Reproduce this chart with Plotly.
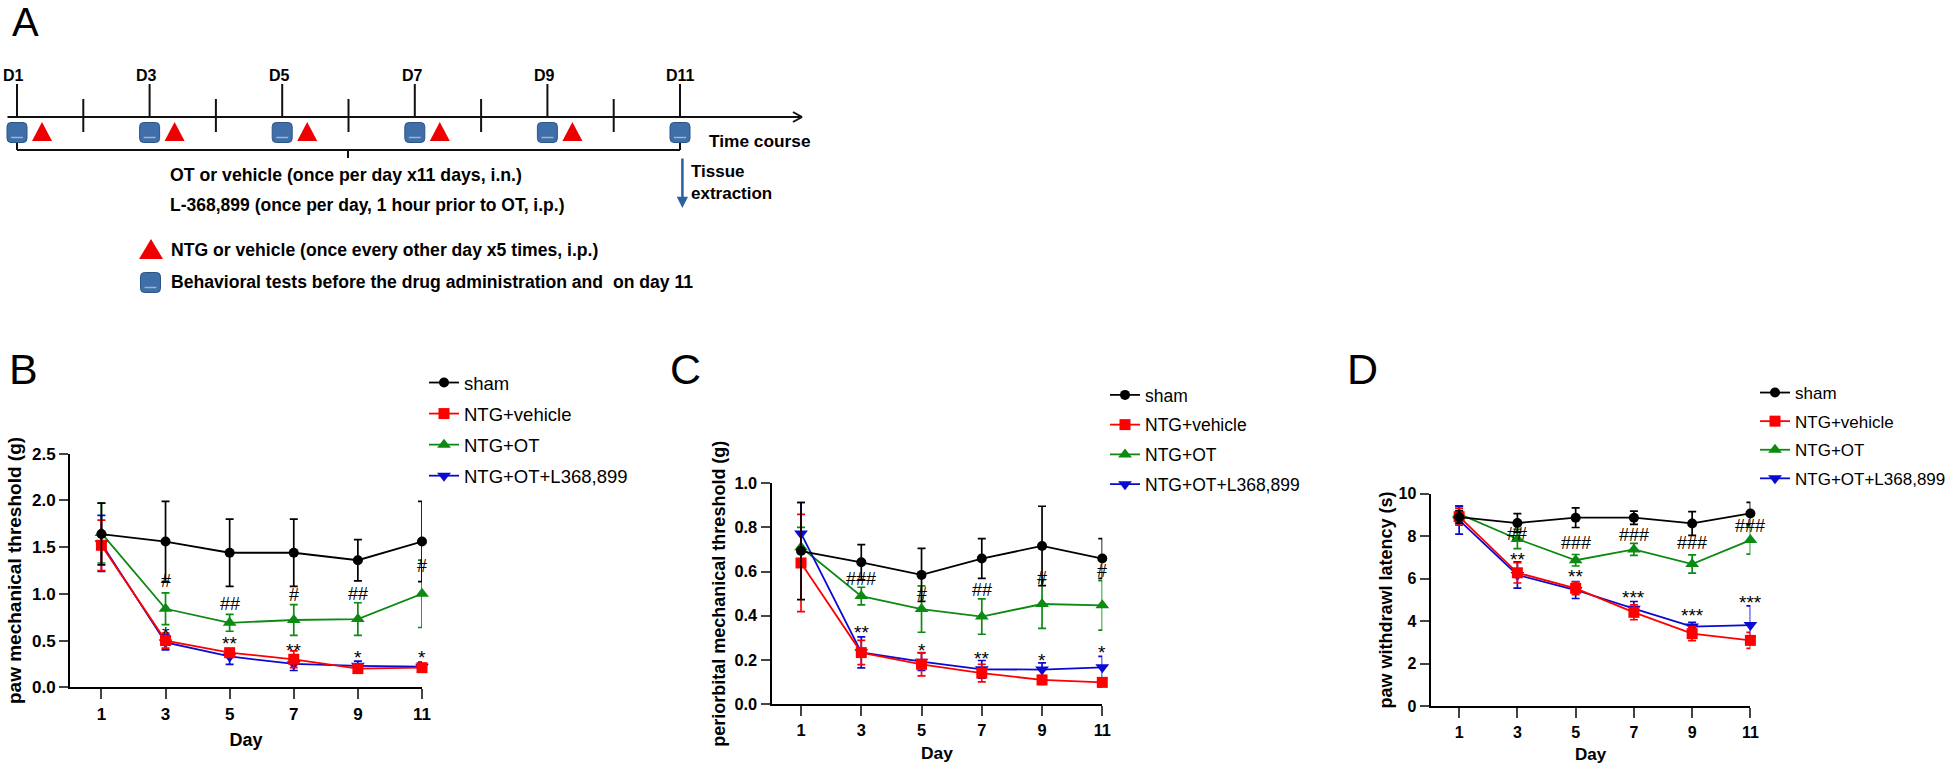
import plotly.graph_objects as go

W, H = 1946, 765

days = [1, 3, 5, 7, 9, 11]
series_names = ["sham", "NTG+vehicle", "NTG+OT", "NTG+OT+L368,899"]

# panel B
b_sham = [1.64, 1.56, 1.44, 1.44, 1.36, 1.56]
b_sham_err = [0.33, 0.43, 0.36, 0.36, 0.22, 0.43]
b_veh = [1.52, 0.50, 0.37, 0.30, 0.20, 0.21]
b_veh_err = [0.27, 0.08, 0.04, 0.09, 0.04, 0.04]
b_ot = [1.65, 0.84, 0.69, 0.72, 0.73, 1.00]
b_ot_err = [0.32, 0.17, 0.09, 0.165, 0.175, 0.36]
b_l368 = [1.54, 0.48, 0.33, 0.25, 0.23, 0.22]
b_l368_err = [0.30, 0.08, 0.085, 0.07, 0.05, 0.05]
b_hash = ["#", "##", "#", "##", "#"]
b_hash_y = [1.14, 0.89, 0.99, 1.00, 1.30]
b_star = ["*", "**", "**", "*", "*"]
b_star_y = [0.62, 0.51, 0.44, 0.36, 0.36]

# panel C
c_sham = [0.693, 0.642, 0.585, 0.659, 0.716, 0.659]
c_sham_err = [0.22, 0.08, 0.12, 0.09, 0.18, 0.09]
c_veh = [0.639, 0.233, 0.18, 0.14, 0.109, 0.098]
c_veh_err = [0.22, 0.055, 0.053, 0.04, 0.02, 0.02]
c_ot = [0.71, 0.489, 0.43, 0.396, 0.453, 0.447]
c_ot_err = [0.09, 0.04, 0.105, 0.08, 0.11, 0.112]
c_l368 = [0.773, 0.234, 0.192, 0.157, 0.156, 0.166]
c_l368_err = [0.14, 0.07, 0.04, 0.04, 0.03, 0.05]
c_hash = ["###", "#", "##", "#", "#"]
c_hash_y = [0.565, 0.50, 0.517, 0.572, 0.603]
c_star = ["**", "*", "**", "*", "*"]
c_star_y = [0.34, 0.26, 0.224, 0.215, 0.25]

# panel D
d_sham = [8.90, 8.62, 8.87, 8.87, 8.60, 9.07]
d_sham_err = [0.30, 0.44, 0.46, 0.31, 0.56, 0.52]
d_veh = [8.92, 6.28, 5.55, 4.42, 3.42, 3.10]
d_veh_err = [0.40, 0.48, 0.30, 0.35, 0.33, 0.38]
d_ot = [9.05, 7.87, 6.87, 7.38, 6.69, 7.82]
d_ot_err = [0.38, 0.45, 0.27, 0.28, 0.43, 0.66]
d_l368 = [8.76, 6.18, 5.47, 4.59, 3.75, 3.82]
d_l368_err = [0.66, 0.62, 0.40, 0.34, 0.20, 0.90]
d_hash = ["##", "###", "###", "###", "###"]
d_hash_y = [8.10, 7.70, 8.07, 7.70, 8.48]
d_star = ["**", "**", "***", "***", "***"]
d_star_y = [7.10, 6.30, 5.31, 4.45, 5.08]
sig_days = [3, 5, 7, 9, 11]

# panel A schedule
timeline_days = [1, 3, 5, 7, 9, 11]
timeline_labels = ["D1", "D3", "D5", "D7", "D9", "D11"]
label_shift = [-4, -3, -3, -2, -3, 0]
between_days = [2, 4, 6, 8, 10]
ntg_days = [1, 3, 5, 7, 9]

BLACK, RED, GREEN, BLUE = "#000000", "#ff0000", "#0d8a12", "#0a0ad2"
ICON = "#3f6ea8"
FONT = "Liberation Sans"
SCHEDULE_H = 320


def px(x):
    return x / W


def py(y):
    return 1 - y / H


panels = [
    dict(ax="", left=70, right=422, top=453.7, bottom=687.3, ymax=2.5, dtick=0.5, fmt=".1f",
         title="paw mechanical threshold (g)", tfont=19, tick=17, standoff=5, xstand=11,
         letter="B", lx=23, legend="legend", leg_x=424, leg_y=364, gap=4, leg_font=18.5,
         data=[(b_ot, b_ot_err), (b_l368, b_l368_err), (b_veh, b_veh_err), (b_sham, b_sham_err)],
         hash=b_hash, hash_y=b_hash_y, star=b_star, star_y=b_star_y),
    dict(ax="2", left=771.5, right=1102.3, top=483.3, bottom=704, ymax=1.0, dtick=0.2, fmt=".1f",
         title="periorbital mechanical threshold (g)", tfont=18, tick=16.4, standoff=4, xstand=9,
         letter="C", lx=685, legend="legend2", leg_x=1105, leg_y=377, gap=4, leg_font=17.5,
         data=[(c_ot, c_ot_err), (c_l368, c_l368_err), (c_veh, c_veh_err), (c_sham, c_sham_err)],
         hash=c_hash, hash_y=c_hash_y, star=c_star, star_y=c_star_y),
    dict(ax="3", left=1430.6, right=1750.4, top=493.7, bottom=706.3, ymax=10, dtick=2, fmt="d",
         title="paw withdrawl latency (s)", tfont=18, tick=16, standoff=1, xstand=9,
         letter="D", lx=1362.6, legend="legend3", leg_x=1755, leg_y=375, gap=3.5, leg_font=17,
         data=[(d_ot, d_ot_err), (d_l368, d_l368_err), (d_veh, d_veh_err), (d_sham, d_sham_err)],
         hash=d_hash, hash_y=d_hash_y, star=d_star, star_y=d_star_y),
]

# drawn green, blue, red, black so sham ends up on top, legend order comes from the ranks
styles = [
    (series_names[2], GREEN, "triangle-up", 12, 3),
    (series_names[3], BLUE, "triangle-down", 12, 4),
    (series_names[1], RED, "square", 11, 2),
    (series_names[0], BLACK, "circle", 10, 1),
]

fig = go.Figure()
annotations = []
layout_axes = {}
legends = {}


def note(x, y, text, size, xref="paper", yref="paper", xanchor="center", bold=False, **kw):
    font = dict(family=FONT, size=size, color="black")
    if bold:
        font["weight"] = "bold"
    annotations.append(dict(x=x, y=y, text=text, xref=xref, yref=yref, showarrow=False,
                            xanchor=xanchor, yanchor="middle", font=font, **kw))


for p in panels:
    for (vals, errs), (name, color, symbol, size, rank) in zip(p["data"], styles):
        fig.add_trace(go.Scatter(
            x=days, y=vals, name=name, mode="lines+markers",
            xaxis="x" + p["ax"], yaxis="y" + p["ax"],
            line=dict(color=color, width=1.8),
            marker=dict(color=color, symbol=symbol, size=size),
            error_y=dict(type="data", array=errs, color=color, thickness=1.7, width=4),
            cliponaxis=False, legend=p["legend"], legendgroup=p["letter"] + name, legendrank=rank,
        ))
    tick_y = [i * p["dtick"] for i in range(int(round(p["ymax"] / p["dtick"])) + 1)]
    axis_font = dict(family=FONT, size=p["tick"], color="black", weight="bold")
    layout_axes["xaxis" + p["ax"]] = dict(
        domain=[px(p["left"]), px(p["right"])], range=[0.02, 11], anchor="y" + p["ax"],
        tickvals=days, ticks="outside", ticklen=10, tickwidth=2, linewidth=2, linecolor="black",
        showline=True, showgrid=False, zeroline=False, tickfont=axis_font,
        title=dict(text="Day", font=axis_font | dict(size=p["tick"] + 1), standoff=p["xstand"]),
    )
    layout_axes["yaxis" + p["ax"]] = dict(
        domain=[py(p["bottom"]), py(p["top"])], range=[0, p["ymax"]], anchor="x" + p["ax"],
        tickvals=tick_y, tickformat=p["fmt"], ticks="outside", ticklen=9, tickwidth=2, linewidth=2,
        linecolor="black", showline=True, showgrid=False, zeroline=False, tickfont=axis_font,
        title=dict(text=p["title"], font=axis_font | dict(size=p["tfont"]), standoff=p["standoff"]),
    )
    legends[p["legend"]] = dict(
        x=px(p["leg_x"]), y=py(p["leg_y"]), xanchor="left", yanchor="top",
        tracegroupgap=p["gap"], font=dict(family=FONT, size=p["leg_font"], color="black"),
        bgcolor="rgba(0,0,0,0)", itemwidth=30,
    )
    xr, yr = "x" + p["ax"], "y" + p["ax"]
    for d, txt, y in zip(sig_days, p["hash"], p["hash_y"]):
        note(d, y, txt, 18, xref=xr, yref=yr)
    for d, txt, y in zip(sig_days, p["star"], p["star_y"]):
        note(d, y, txt, 19, xref=xr, yref=yr, yshift=-4)
    note(px(p["lx"]), py(369), p["letter"], 43)

# panel A: schedule on its own hidden axes, x in days and y in page pixels
day_px = 66.3
x0_day = 1 - 17 / day_px
layout_axes["xaxis4"] = dict(domain=[0, 1], range=[x0_day, x0_day + W / day_px], visible=False, anchor="y4")
layout_axes["yaxis4"] = dict(domain=[py(SCHEDULE_H), 1], range=[SCHEDULE_H, 0], visible=False, anchor="x4")


def schedule_ticks(xs, y0, y1):
    out_x, out_y = [], []
    for x in xs:
        out_x += [x, x, None]
        out_y += [y0, y1, None]
    return out_x, out_y


line_style = dict(color="#111111", width=2)
tx, ty = schedule_ticks(timeline_days, 84, 117)
fig.add_trace(go.Scatter(x=tx, y=ty, mode="lines", line=line_style, xaxis="x4", yaxis="y4", showlegend=False))
tx, ty = schedule_ticks(between_days, 99, 132)
fig.add_trace(go.Scatter(x=tx, y=ty, mode="lines", line=line_style, xaxis="x4", yaxis="y4", showlegend=False))

shapes = []


def page_line(x0, y0, x1, y1, color="#111111", width=2):
    shapes.append(dict(type="line", xref="paper", yref="paper", x0=px(x0), y0=py(y0), x1=px(x1), y1=py(y1),
                       line=dict(color=color, width=width)))


def triangle(cx, top, w, h):
    path = f"M {px(cx - w / 2)} {py(top + h)} L {px(cx + w / 2)} {py(top + h)} L {px(cx)} {py(top)} Z"
    shapes.append(dict(type="path", xref="paper", yref="paper", path=path, fillcolor="#ee0000",
                       line=dict(width=0)))


def cylinder(cx, cy):
    l, r, t, b = cx - 10, cx + 10, cy - 10, cy + 10
    path = (f"M {px(l + 4)} {py(t)} L {px(r - 4)} {py(t)} Q {px(r)} {py(t)} {px(r)} {py(t + 4)} "
            f"L {px(r)} {py(b - 4)} Q {px(r)} {py(b)} {px(r - 4)} {py(b)} L {px(l + 4)} {py(b)} "
            f"Q {px(l)} {py(b)} {px(l)} {py(b - 4)} L {px(l)} {py(t + 4)} Q {px(l)} {py(t)} {px(l + 4)} {py(t)} Z")
    shapes.append(dict(type="path", xref="paper", yref="paper", path=path, fillcolor=ICON,
                       line=dict(color="#2c5587", width=1)))
    page_line(cx - 6, cy + 5, cx + 6, cy + 5, color="#9db4d0", width=1.5)


page_line(7.5, 117, 802, 117)
page_line(793, 112, 802, 117)
page_line(793, 122, 802, 117)
page_line(17, 141, 17, 150)
page_line(680, 141, 680, 150)
page_line(17, 150, 680, 150)
page_line(348, 150, 348, 158)
for d in timeline_days:
    cylinder(17 + (d - 1) * day_px, 132.5)
for d in ntg_days:
    triangle(17 + (d - 1) * day_px + 25, 122, 20, 19)
cylinder(150.5, 282.5)
triangle(151, 239, 24, 20)

for d, txt, shift in zip(timeline_days, timeline_labels, label_shift):
    note(d, 75, txt, 16, xref="x4", yref="y4", bold=True, xshift=shift)

texts = [
    ("OT or vehicle (once per day x11 days, i.n.)", 168, 175, 17.7),
    ("L-368,899 (once per day, 1 hour prior to OT, i.p.)", 168, 205, 17.5),
    ("NTG or vehicle (once every other day x5 times, i.p.)", 169, 250, 17.6),
    ("Behavioral tests before the drug administration and  on day 11", 169, 282, 17.6),
    ("Time course", 707, 141, 17.3),
    ("Tissue", 689, 172, 17),
    ("extraction", 689, 193, 17),
]
for txt, x, y, size in texts:
    note(px(x), py(y), txt, size, xanchor="left", bold=True)

annotations.append(dict(x=px(682.4), y=py(208), ax=0, ay=-51, xref="paper", yref="paper", text="", showarrow=True,
                        arrowhead=2, arrowsize=0.9, arrowwidth=2.5, arrowcolor="#2e5f9e"))
note(px(25), py(22), "A", 40)

fig.update_layout(
    width=W, height=H, margin=dict(l=0, r=0, t=0, b=0, autoexpand=False),
    paper_bgcolor="white", plot_bgcolor="rgba(0,0,0,0)",
    font=dict(family=FONT, color="black"), annotations=annotations, shapes=shapes, **layout_axes, **legends,
)

fig.write_html("out.html", config={"displayModeBar": False}, post_script="document.body.style.margin='0';")
